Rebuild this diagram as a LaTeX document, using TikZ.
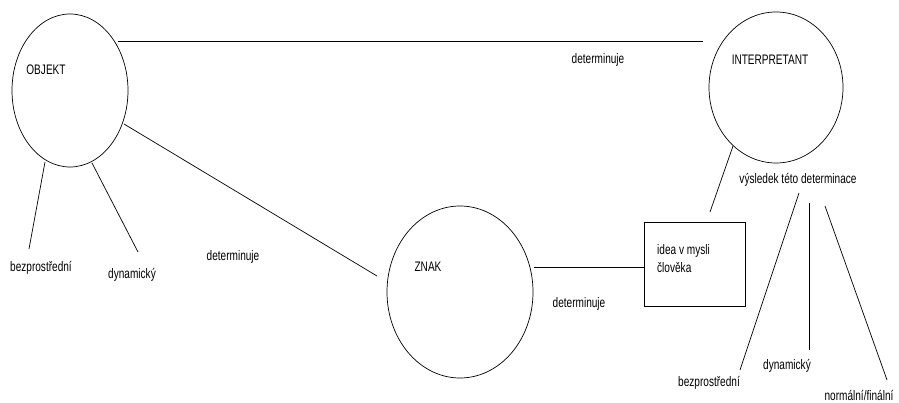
\documentclass[tikz,border=0pt]{standalone}
\usepackage{fontspec}
\setmainfont{Liberation Sans}[FakeStretch=0.73]
\usetikzlibrary{shapes.geometric}
\begin{document}
\begin{tikzpicture}[x=1pt,y=-1pt,
  every node/.style={font=\fontsize{13.8}{18}\selectfont},
  ring/.style={draw, ellipse, inner sep=0pt, line width=0.7pt},
  card/.style={draw, rectangle, inner sep=0pt, line width=0.7pt},
  link/.style={line width=0.7pt},
  lbl/.style={inner sep=0pt, text height=10pt, text depth=2.8pt}]
\useasboundingbox[fill=white] (0,0) rectangle (899,403);

% main shapes
\node[ring, minimum width=116pt, minimum height=153pt] (objekt) at (70,90.5) {};
\node[ring, minimum width=146pt, minimum height=172pt] (znak) at (460,292) {};
\node[ring, minimum width=134pt, minimum height=151pt] (interp) at (776,87.5) {};
\node[card, minimum width=101pt, minimum height=84pt] (idea) at (694.5,264.5) {};

% titles
\node[lbl] (tObj) at (46,71) {OBJEKT};
\node[lbl] (tZnak) at (428,268) {ZNAK};
\node[lbl] (tInt) at (770,61) {INTERPRETANT};
\node[inner sep=0pt, align=left, anchor=west] (tIdea) at (657,259) {idea v mysli\\člověka};

% relation labels
\node[lbl] (dTop) at (598,60) {determinuje};
\node[lbl] (dLeft) at (233,257) {determinuje};
\node[lbl] (dBot) at (579,304) {determinuje};
\node[lbl] (result) at (798,180) {výsledek této determinace};

% kinds of object
\node[lbl] (oImm) at (41,268) {bezprostřední};
\node[lbl] (oDyn) at (132,275) {dynamický};

% kinds of interpretant
\node[lbl] (iImm) at (709,383) {bezprostřední};
\node[lbl] (iDyn) at (787,366) {dynamický};
\node[lbl] (iFin) at (859,397) {normální/finální};

% connector end points
\coordinate (a1) at (118,41);   \coordinate (a2) at (703,41);
\coordinate (b1) at (124,124);  \coordinate (b2) at (377,276);
\coordinate (c1) at (534,267);  \coordinate (c2) at (644,267);
\coordinate (d1) at (710,212);  \coordinate (d2) at (733,146);
\coordinate (e1) at (45,162);   \coordinate (e2) at (29,249);
\coordinate (f1) at (92,163);   \coordinate (f2) at (138,252);
\coordinate (g1) at (799,193);  \coordinate (g2) at (740,370);
\coordinate (h1) at (809,203);  \coordinate (h2) at (809,350);
\coordinate (k1) at (825,206);  \coordinate (k2) at (887,380);

% connectors
\draw[link] (a1) -- (a2);
\draw[link] (b1) -- (b2);
\draw[link] (c1) -- (c2);
\draw[link] (d1) -- (d2);
\draw[link] (e1) -- (e2);
\draw[link] (f1) -- (f2);
\draw[link] (g1) -- (g2);
\draw[link] (h1) -- (h2);
\draw[link] (k1) -- (k2);
\end{tikzpicture}
\end{document}
